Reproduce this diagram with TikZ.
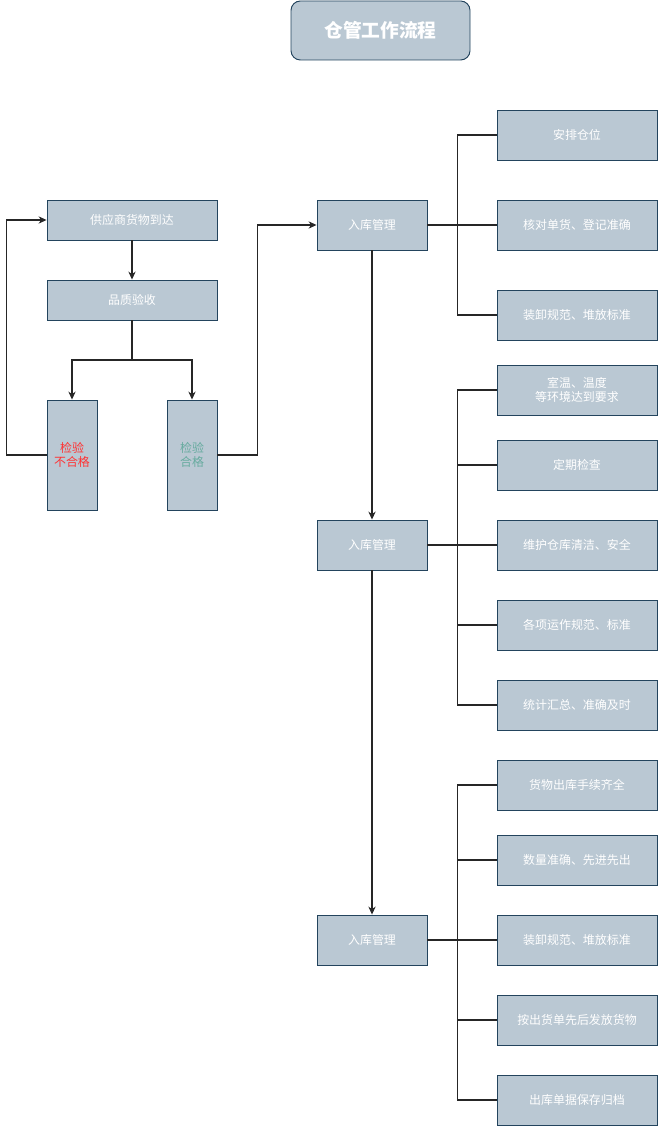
\documentclass[tikz,border=0pt]{standalone}
\usepackage{fontspec}
\usepackage{xcolor}
\usepackage{tikz}
\usetikzlibrary{arrows.meta,positioning}
\newfontfamily\cjk{Noto Sans CJK SC}
\definecolor{boxfill}{HTML}{BAC8D3}
\definecolor{boxline}{HTML}{23445D}
\definecolor{failc}{HTML}{FF3333}
\definecolor{passc}{HTML}{67AB9F}
\tikzset{
  ln/.style={line width=0.9pt,black!85},
  ar/.style={-{Stealth[length=2.4mm,width=2.2mm]},line width=0.9pt,black!85},
  box/.style={draw=boxline,line width=0.8pt,fill=boxfill,text=white,align=center,font=\cjk\fontsize{10.2}{12}\selectfont,inner sep=2pt},
  wide/.style={box,minimum width=5.1cm,minimum height=1.2cm},
  tall/.style={box,minimum width=1.5cm,minimum height=3.3cm},
  mgmt/.style={box,minimum width=3.3cm,minimum height=1.5cm},
  task/.style={box,minimum width=4.8cm,minimum height=1.5cm}
}
\begin{document}
\begin{tikzpicture}[x=0.03cm,y=-0.03cm]
\useasboundingbox (0,0) rectangle (659,1126);
% title
\node[box,rounded corners=8pt,minimum width=5.37cm,minimum height=1.77cm,font=\cjk\bfseries\fontsize{16}{19}\selectfont] (title) at (380.5,30.5) {仓管工作流程};
% left part
\node[wide] (arrive) at (132,220) {供应商货物到达};
\node[wide] (check) at (132,300) {品质验收};
\node[tall,text=failc] (fail) at (72,455) {检验\\不合格};
\node[tall,text=passc] (pass) at (192,455) {检验\\合格};
\draw[ar] (arrive.south) -- (check.north);
\coordinate (split) at (132,360);
\draw[ln] (check.south) -- (split);
\draw[ar] (split) -| (fail.north);
\draw[ar] (split) -| (pass.north);
\draw[ar] (fail.west) -- ++(-40,0) |- (arrive.west);
% management boxes
\node[mgmt] (m1) at (372,225) {入库管理};
\node[mgmt] (m2) at (372,545) {入库管理};
\node[mgmt] (m3) at (372,940) {入库管理};
\draw[ar] (pass.east) -- ++(40,0) |- (m1.west);
\draw[ar] (m1.south) -- (m2.north);
\draw[ar] (m2.south) -- (m3.north);
% tasks
\foreach \n/\y/\t in {a1/135/安排仓位,a2/225/核对单货、登记准确,a3/315/装卸规范、堆放标准}{
  \node[task] (\n) at (577,\y) {\t};
  \draw[ln] (m1.east) -- ++(30,0) |- (\n.west);
}
\foreach \n/\y/\t in {b1/390/{室温、温度\\等环境达到要求},b2/465/定期检查,b3/545/维护仓库清洁、安全,b4/625/各项运作规范、标准,b5/705/统计汇总、准确及时}{
  \node[task] (\n) at (577,\y) {\t};
  \draw[ln] (m2.east) -- ++(30,0) |- (\n.west);
}
\foreach \n/\y/\t in {c1/785/货物出库手续齐全,c2/860/数量准确、先进先出,c3/940/装卸规范、堆放标准,c4/1020/按出货单先后发放货物,c5/1100/出库单据保存归档}{
  \node[task] (\n) at (577,\y) {\t};
  \draw[ln] (m3.east) -- ++(30,0) |- (\n.west);
}
\end{tikzpicture}
\end{document}
